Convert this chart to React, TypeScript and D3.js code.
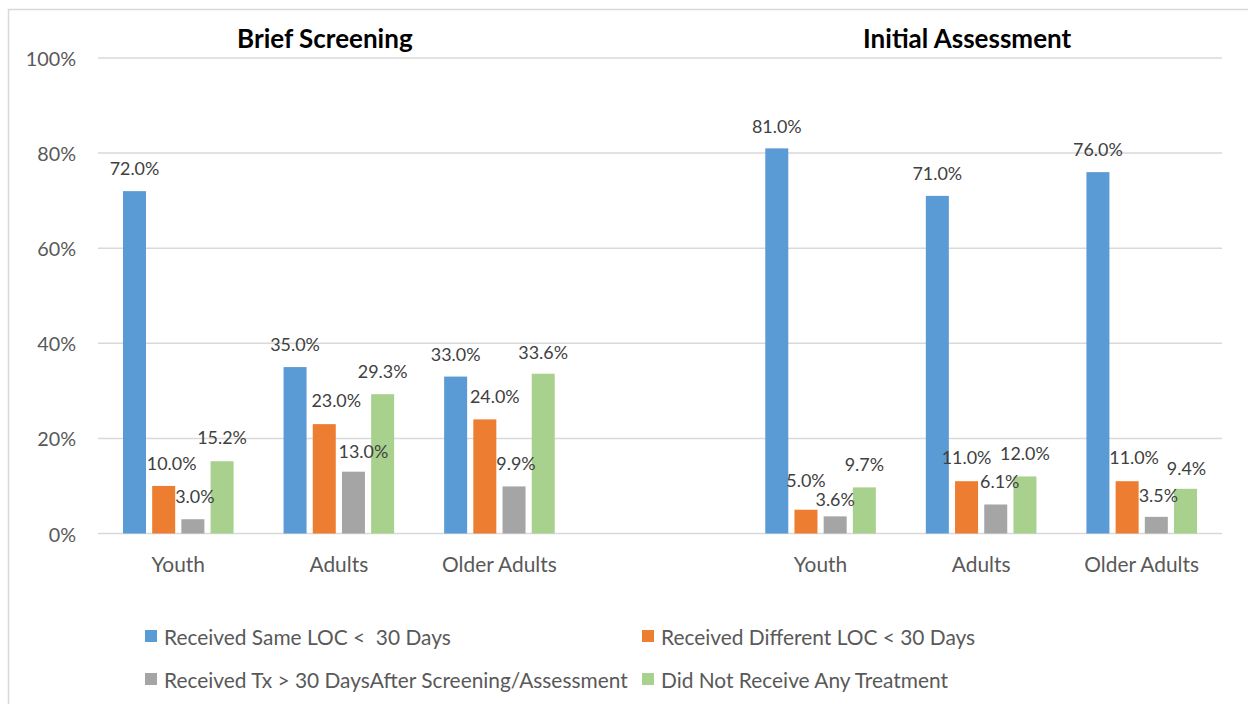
import React from "react";
import * as d3 from "d3";

const W = 1248;
const H = 706;

const panels = ["Brief Screening", "Initial Assessment"];
const groups = ["Youth", "Adults", "Older Adults"];
const series = [
  "Received Same LOC <  30 Days",
  "Received Different LOC < 30 Days",
  "Received Tx > 30 DaysAfter Screening/Assessment",
  "Did Not Receive Any Treatment",
];
const colors = ["#5B9BD5", "#ED7D31", "#A5A5A5", "#A9D18E"];

// values in %, per panel, per group, per series
const briefScreening = [
  [72.0, 10.0, 3.0, 15.2],
  [35.0, 23.0, 13.0, 29.3],
  [33.0, 24.0, 9.9, 33.6],
];
const initialAssessment = [
  [81.0, 5.0, 3.6, 9.7],
  [71.0, 11.0, 6.1, 12.0],
  [76.0, 11.0, 3.5, 9.4],
];
const yTicks = [0, 20, 40, 60, 80, 100];

// manual label nudges (dx, dy) as in the reference
const labelNudges: [number, number][][] = [
  [[0, 0], [8, 0], [2, 0], [0, -1]],
  [[0, 0], [12, -1], [10, 2], [0, 0]],
  [[0, 0], [10, 0], [2, 0], [0, 1]],
  [[0, 1], [0, -7], [0, 6], [0, 0]],
  [[0, 0], [0, -1.5], [4, 0], [0, 0]],
  [[0, 0], [7, -1.5], [2, 1], [1, 2.5]],
];

const FONT = "Lato, 'Open Sans', sans-serif";

export default function App() {
  const left = 98, right = 1222, top = 58, bottom = 533.5;
  const slots = ["L0", "L1", "L2", "gap", "R0", "R1", "R2"];
  const x0 = d3.scaleBand<string>().domain(slots).range([left, right]).padding(0);
  const y = d3.scaleLinear().domain([0, 100]).range([bottom, top]);
  const bw = x0.bandwidth();
  const groupW = 110.6;
  const x1 = d3
    .scaleBand<number>()
    .domain([0, 1, 2, 3])
    .range([bw / 2 - groupW / 2, bw / 2 + groupW / 2])
    .paddingInner(0.212)
    .paddingOuter(0);

  const data = [briefScreening, initialAssessment];
  const fmt = d3.format(".1f");

  const cats: { key: string; label: string; vals: number[]; idx: number }[] = [];
  data.forEach((panel, p) =>
    panel.forEach((vals, g) =>
      cats.push({ key: (p === 0 ? "L" : "R") + g, label: groups[g], vals, idx: p * 3 + g })
    )
  );

  const panelCenter = (p: number) => {
    const a = x0(p === 0 ? "L0" : "R0")!;
    const b = x0(p === 0 ? "L2" : "R2")! + bw;
    return (a + b) / 2 - 14;
  };

  return (
    <svg
      width={W}
      height={H}
      style={{ position: "absolute", left: 0, top: 0, background: "#fff" }}
      fontFamily={FONT}
    >
      <rect x={0} y={0} width={W} height={H} fill="#fff" />
      {/* outer chart border */}
      <line x1={8} x2={W + 10} y1={9.5} y2={9.5} stroke="#D9D9D9" strokeWidth={1.5} />
      <line x1={8.5} x2={8.5} y1={9} y2={704} stroke="#D9D9D9" strokeWidth={1.5} />

      {/* gridlines */}
      {yTicks.map((t) => (
        <g key={t}>
          <line x1={left} x2={right} y1={y(t)} y2={y(t)} stroke="#D9D9D9" strokeWidth={1.5} />
          <text
            x={76}
            y={y(t)}
            textAnchor="end"
            dominantBaseline="central"
            fontSize={19.8}
            fill="#595959"
          >
            {t}%
          </text>
        </g>
      ))}

      {/* titles */}
      {panels.map((t, p) => (
        <text
          key={t}
          x={panelCenter(p)}
          y={48}
          textAnchor="middle"
          fontSize={26}
          fontWeight="bold"
          fill="#000"
        >
          {t}
        </text>
      ))}

      {/* bars */}
      {cats.map((c) => (
        <g key={c.key} transform={`translate(${x0(c.key)},0)`}>
          {c.vals.map((v, i) => (
            <rect
              key={i}
              x={x1(i)}
              y={y(v)}
              width={x1.bandwidth()}
              height={bottom - y(v)}
              fill={colors[i]}
            />
          ))}
          {c.vals.map((v, i) => {
            const [dx, dy] = labelNudges[c.idx][i];
            return (
              <text
                key={"l" + i}
                x={x1(i)! + x1.bandwidth() / 2 + dx}
                y={y(v) - 23 + dy}
                textAnchor="middle"
                dominantBaseline="central"
                fontSize={17.9}
                fill="#404040"
              >
                {fmt(v)}%
              </text>
            );
          })}
          <text
            x={bw / 2}
            y={563}
            textAnchor="middle"
            dominantBaseline="central"
            fontSize={20.9}
            fill="#595959"
          >
            {c.label}
          </text>
        </g>
      ))}

      {/* legend */}
      {series.map((s, i) => {
        const col = i % 2;
        const row = Math.floor(i / 2);
        const mx = col === 0 ? 145 : 642;
        const cy = row === 0 ? 636 : 679;
        return (
          <g key={s}>
            <rect x={mx} y={cy - 6} width={12} height={12} fill={colors[i]} />
            <text
              x={mx + 19}
              y={cy}
              dominantBaseline="central"
              fontSize={20.9}
              fill="#595959"
              style={{ whiteSpace: "pre" }}
            >
              {s}
            </text>
          </g>
        );
      })}
    </svg>
  );
}
